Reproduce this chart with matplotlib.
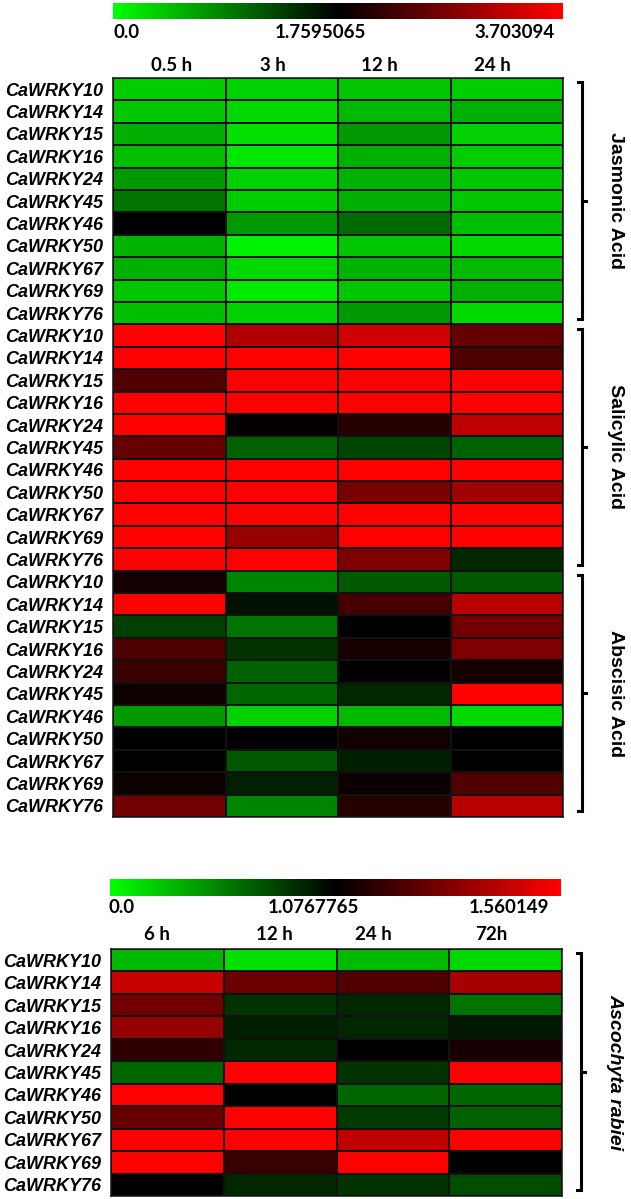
import numpy as np
import matplotlib
matplotlib.use('Agg')
import matplotlib.pyplot as plt
from matplotlib.colors import LinearSegmentedColormap, TwoSlopeNorm

genes = ['CaWRKY10', 'CaWRKY14', 'CaWRKY15', 'CaWRKY16', 'CaWRKY24', 'CaWRKY45',
         'CaWRKY46', 'CaWRKY50', 'CaWRKY67', 'CaWRKY69', 'CaWRKY76']
hormone_times = ['0.5 h', '3 h', '12 h', '24 h']
fungus_times = ['6 h', '12 h', '24 h', '72h']
hormone_groups = ['Jasmonic Acid', 'Salicylic Acid', 'Abscisic Acid']

hormone_scale = [0.0, 1.7595065, 3.703094]
fungus_scale = [0.0, 1.0767765, 1.560149]

ja = [[0.352, 0.317, 0.387, 0.352],
      [0.387, 0.264, 0.493, 0.563],
      [0.563, 0.211, 0.704, 0.317],
      [0.440, 0.176, 0.563, 0.352],
      [0.704, 0.317, 0.528, 0.387],
      [0.968, 0.352, 0.563, 0.387],
      [1.760, 0.704, 1.021, 0.440],
      [0.528, 0.088, 0.387, 0.264],
      [0.563, 0.264, 0.528, 0.493],
      [0.387, 0.141, 0.387, 0.563],
      [0.440, 0.317, 0.704, 0.264]]
sa = [[3.70, 3.081, 3.353, 2.537],
      [3.70, 3.70, 3.70, 2.343],
      [2.381, 3.70, 3.70, 3.70],
      [3.70, 3.70, 3.70, 3.70],
      [3.70, 1.798, 2.051, 3.217],
      [2.537, 1.091, 1.284, 1.091],
      [3.70, 3.70, 3.70, 3.70],
      [3.70, 3.70, 2.673, 2.965],
      [3.70, 3.70, 3.70, 3.70],
      [3.70, 2.926, 3.70, 3.70],
      [3.70, 3.70, 2.731, 1.496]]
aba = [[1.915, 0.845, 1.144, 1.144],
       [3.70, 1.636, 2.304, 3.159],
       [1.320, 0.968, 1.760, 2.634],
       [2.343, 1.408, 1.954, 2.731],
       [2.187, 1.091, 1.760, 1.915],
       [1.857, 1.056, 1.496, 3.70],
       [0.704, 0.317, 0.493, 0.264],
       [1.760, 1.760, 1.896, 1.760],
       [1.760, 1.144, 1.548, 1.760],
       [1.857, 1.548, 1.837, 2.381],
       [2.634, 0.845, 2.051, 3.159]]
ascochyta = [[0.302, 0.129, 0.302, 0.162],
             [1.454, 1.280, 1.231, 1.391],
             [1.294, 0.861, 0.915, 0.592],
             [1.357, 0.948, 0.915, 0.969],
             [1.164, 0.915, 1.077, 1.125],
             [0.646, 1.560, 0.861, 1.560],
             [1.560, 1.077, 0.646, 0.646],
             [1.270, 1.560, 0.840, 0.668],
             [1.560, 1.560, 1.439, 1.560],
             [1.560, 1.183, 1.560, 1.077],
             [1.077, 0.915, 0.861, 0.754]]

W, H = 631, 1199
cmap = LinearSegmentedColormap.from_list('gbr', [(0, 1, 0), (0, 0, 0), (1, 0, 0)])
num_font = dict(family='Lato', weight='bold', size=13.5)
gene_font = dict(family='Liberation Sans', weight='bold', style='italic', size=13)

fig = plt.figure(figsize=(W / 100, H / 100), dpi=100)


def px_axes(l, t, w, h):
    return fig.add_axes([l / W, 1 - (t + h) / H, w / W, h / H])


def colorbar(l, t, w, h, scale, label_x, pad):
    cax = px_axes(l, t, w, h)
    cax.imshow(np.linspace(0, 1, 512)[None, :], cmap=cmap, aspect='auto',
               extent=(0, 1, 0, 1))
    cax.set_axis_off()
    labels = ['0.0', str(scale[1]), str(scale[2])]
    for lab, x, ha in zip(labels, label_x, ['left', 'center', 'right']):
        cax.annotate(lab, (x, 0), xycoords='axes fraction', xytext=(0, -pad),
                     textcoords='offset points', ha=ha, va='top', **num_font)
    return TwoSlopeNorm(vmin=scale[0], vcenter=scale[1], vmax=scale[2])


def heatmap(l, t, w, h, data, times, header_x, norm, head_pad):
    ax = px_axes(l, t, w, h)
    arr = np.array(data)
    ax.pcolormesh(arr, cmap=cmap, norm=norm, edgecolors='#111111', linewidth=1.1)
    ax.set_xlim(0, arr.shape[1])
    ax.set_ylim(arr.shape[0], 0)
    ax.set_yticks(np.arange(arr.shape[0]) + 0.5)
    ax.set_yticklabels(genes * (arr.shape[0] // len(genes)), **gene_font)
    ax.xaxis.tick_top()
    ax.set_xticks(header_x)
    ax.set_xticklabels(times, **num_font)
    ax.tick_params(length=0)
    ax.tick_params(axis='y', pad=7)
    ax.tick_params(axis='x', pad=head_pad)
    for s in ax.spines.values():
        s.set_linewidth(1.1)
        s.set_color('#111111')
    return ax


def bracket(ax, y0, y1, label, style):
    x = 4.17
    ax.plot([x - 0.04, x, x, x - 0.04], [y0, y0, y1, y1], color='black',
            lw=2.2, clip_on=False, solid_joinstyle='miter')
    ym = (y0 + y1) / 2
    ax.plot([x, x + 0.03], [ym, ym], color='black', lw=2.2, clip_on=False)
    ax.text(4.47, ym, label, rotation=270, ha='center', va='center',
            family='Liberation Sans', weight='bold', style=style, size=14)


# hormone treatments
norm1 = colorbar(113, 3, 450, 16, hormone_scale, [0.0, 0.46, 0.982], 3.5)
ax1 = heatmap(113, 78, 450, 739, ja + sa + aba, hormone_times,
              [0.52, 1.42, 2.37, 3.37], norm1, 3)
for i, g in enumerate(hormone_groups):
    bracket(ax1, i * 11 + 0.2, i * 11 + 10.75, g, 'normal')

# Ascochyta rabiei infection
norm2 = colorbar(110, 879, 451, 17, fungus_scale, [-0.004, 0.45, 0.973], 2.5)
ax2 = heatmap(111, 949, 451, 247, ascochyta, fungus_times,
              [0.41, 1.45, 2.33, 3.37], norm2, 4.5)
bracket(ax2, 0.2, 10.75, 'Ascochyta rabiei', 'italic')

fig.savefig('out.png', dpi=100)
